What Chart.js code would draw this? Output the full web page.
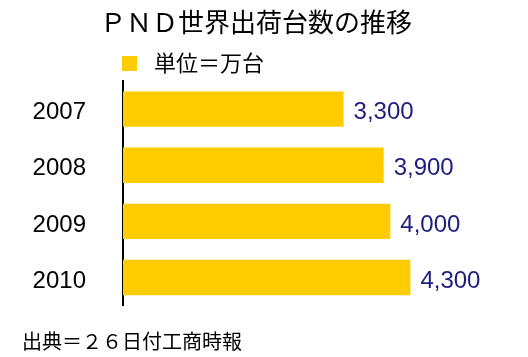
<!DOCTYPE html>
<html>
<head>
<meta charset="utf-8">
<script src="https://cdn.jsdelivr.net/npm/chart.js@4/dist/chart.umd.min.js"></script>
<style>
  html, body { margin: 0; padding: 0; background: #fff; }
  #wrap { width: 528px; height: 357px; position: relative; }
</style>
</head>
<body>
<div id="wrap"><canvas id="c" width="528" height="357"></canvas></div>
<script>
const categories = ['2007', '2008', '2009', '2010'];
const shipments = [3300, 3900, 4000, 4300];
const seriesLabel = '単位＝万台';
const titleText = 'ＰＮＤ世界出荷台数の推移';
const sourceText = '出典＝２６日付工商時報';

const BAR_COLOR = '#FFCC00';
const LABEL_COLOR = '#1F1C80';
const CJK = '"Noto Sans CJK JP", "Noto Sans", sans-serif';
const LATIN = '"Liberation Sans", Arial, sans-serif';

const textPlugin = {
  id: 'textPlugin',
  afterDatasetsDraw(chart) {
    const ctx = chart.ctx;
    const area = chart.chartArea;
    ctx.save();
    // value labels
    const meta = chart.getDatasetMeta(0);
    ctx.font = '24px ' + LATIN;
    ctx.fillStyle = LABEL_COLOR;
    ctx.textAlign = 'left';
    ctx.textBaseline = 'middle';
    meta.data.forEach((bar, i) => {
      const v = chart.data.datasets[0].data[i];
      ctx.fillText(v.toLocaleString('en-US'), bar.x + 10, bar.y + 3.5);
    });
    // title
    ctx.fillStyle = '#000';
    ctx.font = '26px ' + CJK;
    ctx.textAlign = 'center';
    ctx.fillText(titleText, 256, 22);
    // legend
    const ds = chart.data.datasets[0];
    ctx.fillStyle = ds.backgroundColor;
    ctx.fillRect(area.left - 1, 56, 15, 15);
    ctx.fillStyle = '#000';
    ctx.font = '22px ' + CJK;
    ctx.textAlign = 'left';
    ctx.fillText(ds.label, area.left + 31, 63);
    // source
    ctx.font = '20px ' + CJK;
    ctx.fillText(sourceText, 22, 341);
    ctx.restore();
  }
};

new Chart(document.getElementById('c'), {
  type: 'bar',
  data: {
    labels: categories,
    datasets: [{
      label: seriesLabel,
      data: shipments,
      backgroundColor: BAR_COLOR,
      borderWidth: 0,
      barPercentage: 0.63,
      categoryPercentage: 1.0
    }]
  },
  options: {
    indexAxis: 'y',
    responsive: false,
    animation: false,
    devicePixelRatio: 1,
    layout: { padding: { top: 81, bottom: 47, left: 0, right: 4 } },
    plugins: {
      legend: { display: false },
      title: { display: false },
      tooltip: { enabled: false }
    },
    scales: {
      x: {
        display: false,
        min: 0,
        max: 6000
      },
      y: {
        afterFit(scale) { scale.width = 123; },
        grid: { display: false, drawTicks: false, tickLength: 0 },
        border: { display: true, color: '#000', width: 2 },
        ticks: {
          color: '#000',
          padding: 37,
          labelOffset: 3.5,
          font: { family: LATIN, size: 24 }
        }
      }
    }
  },
  plugins: [textPlugin]
});
</script>
</body>
</html>
